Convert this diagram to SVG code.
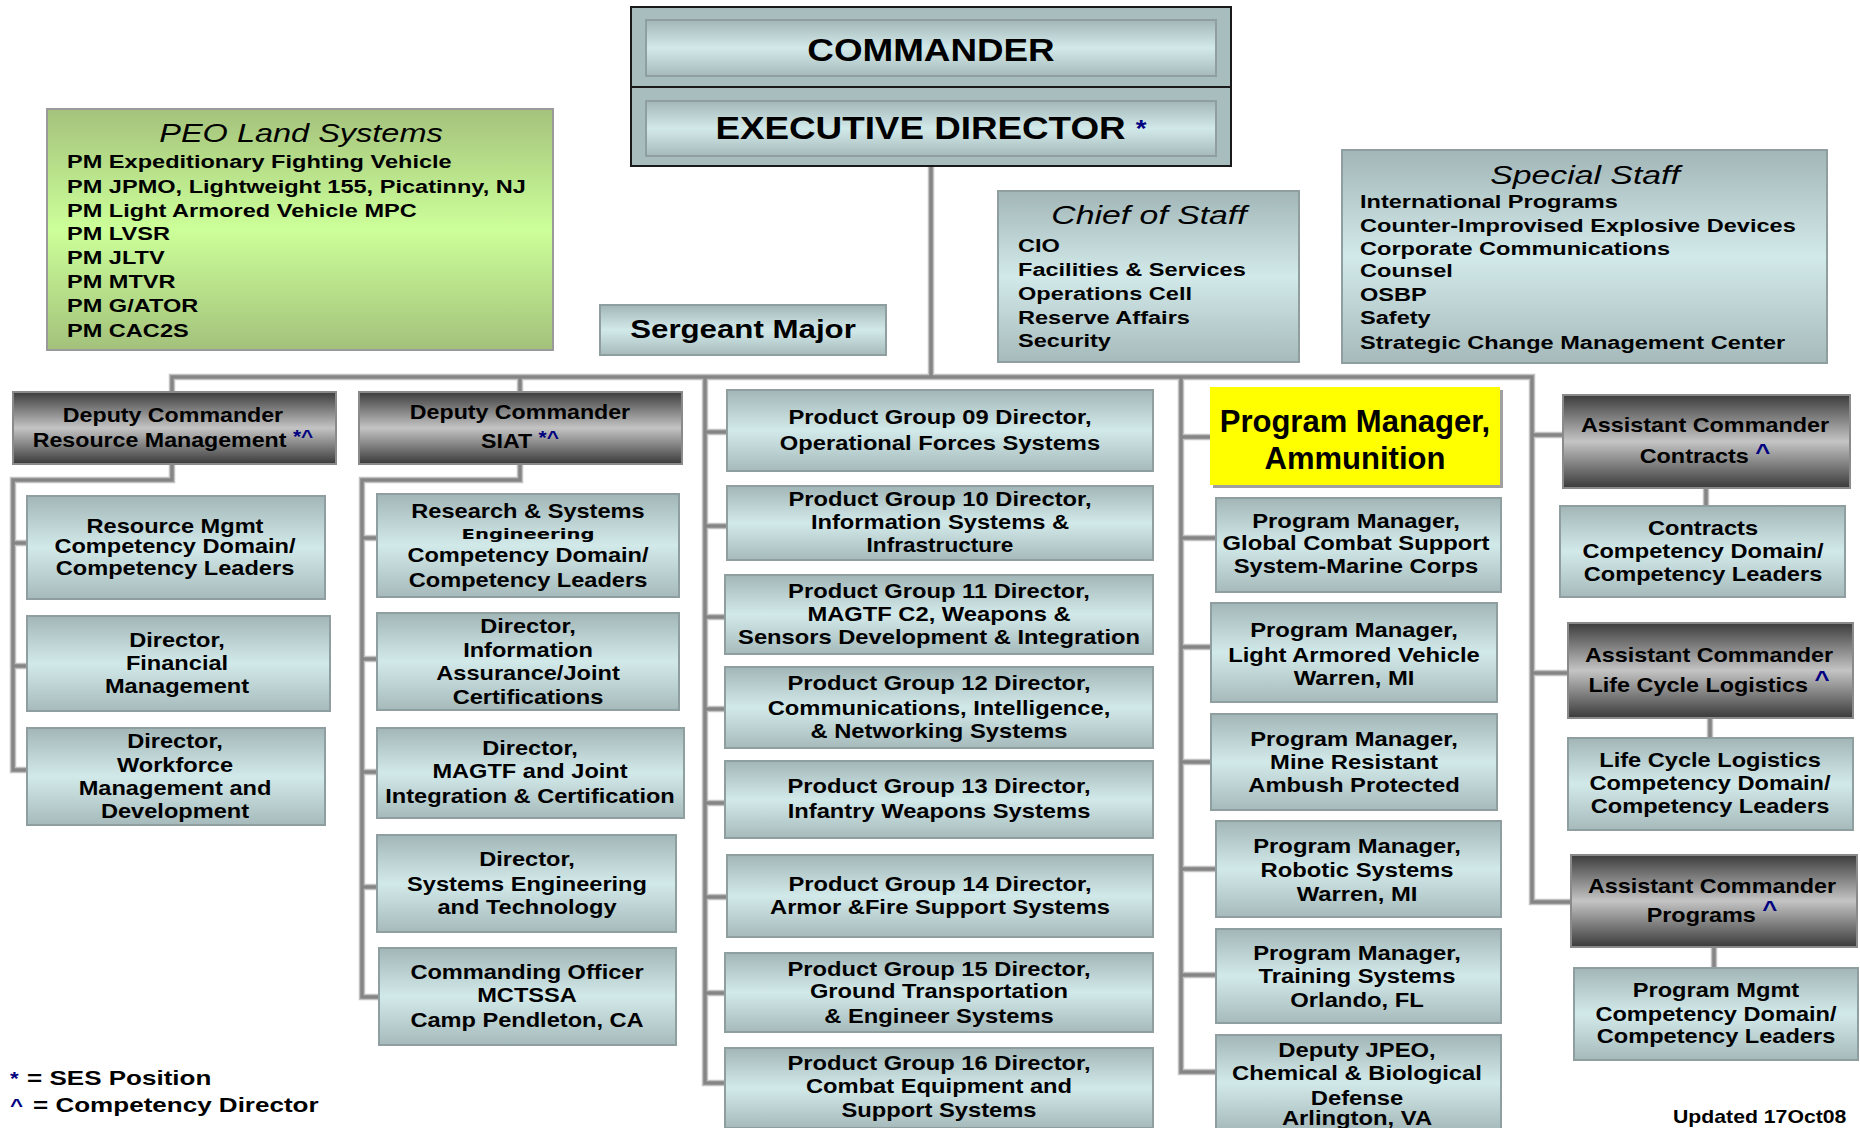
<svg xmlns="http://www.w3.org/2000/svg" xmlns:xlink="http://www.w3.org/1999/xlink" width="1860" height="1128" viewBox="0 0 1860 1128">
<defs>
<style>
.t{font-family:"Liberation Sans",Arial,sans-serif;font-weight:bold;fill:#000;text-anchor:middle}
.l{font-family:"Liberation Sans",Arial,sans-serif;font-weight:bold;fill:#000;text-anchor:start}
.it{font-family:"Liberation Sans",Arial,sans-serif;font-style:italic;font-weight:normal;fill:#000;text-anchor:middle}
.nv{fill:#000080}
.box{fill:url(#gBox);stroke:#8f9e9e;stroke-width:2}
.dark{fill:url(#gDark);stroke:#8a8a8a;stroke-width:2}
.green{fill:url(#gGreen);stroke:#9a9a9a;stroke-width:2}
.c1{fill:none;stroke:#c2c2c2;stroke-width:6.5;stroke-linecap:square}
.c2{fill:none;stroke:#858585;stroke-width:3.5;stroke-linecap:square}
.f32{font-size:32px}.f26{font-size:26px}.f25{font-size:25px}.f21{font-size:21px}.f20{font-size:20px}.f19{font-size:19px}.f18{font-size:18px}.f31{font-size:31px}
</style>
<linearGradient id="gBox" x1="0" y1="0" x2="0" y2="1">
<stop offset="0" stop-color="#a2b6b7"/><stop offset="0.5" stop-color="#d2e9ea"/><stop offset="1" stop-color="#a6babb"/>
</linearGradient>
<linearGradient id="gDark" x1="0" y1="0" x2="0" y2="1">
<stop offset="0" stop-color="#3c3c3c"/><stop offset="0.5" stop-color="#c4c4c4"/><stop offset="1" stop-color="#3a3a3a"/>
</linearGradient>
<linearGradient id="gGreen" x1="0" y1="0" x2="0" y2="1">
<stop offset="0" stop-color="#a4c27c"/><stop offset="0.5" stop-color="#ccff99"/><stop offset="1" stop-color="#a3c17b"/>
</linearGradient>
<path id="conn" d="M931,166V377 M172,393V377H1532V902H1571 M520,392V377 M705,377V1083H725 M705,432H727 M705,526H727 M705,617H725 M705,709H725 M705,803H725 M705,897H727 M705,993H725 M1181,377V1072H1216 M1181,437H1210 M1181,538H1216 M1181,647H1211 M1181,762H1211 M1181,869H1216 M1181,975H1216 M1532,435H1563 M1532,673H1568 M1706,488V506 M1710,718V738 M1714,947V968 M172,464V480H13V770H27 M13,543H27 M13,666H27 M520,464V480H362V997H379 M362,538H377 M362,659H377 M362,772H377 M362,887H377"/>
</defs>
<rect width="1860" height="1128" fill="#fff"/>

<g id="connectors">
<use xlink:href="#conn" class="c1"/>
<use xlink:href="#conn" class="c2"/>
</g>

<g id="commander">
<rect x="631" y="7" width="600" height="159" fill="#a8bdbd" stroke="#1a1a1a" stroke-width="2"/>
<line x1="631" y1="87" x2="1231" y2="87" stroke="#1a1a1a" stroke-width="2"/>
<rect x="646" y="20" width="570" height="56" class="box"/>
<rect x="646" y="101" width="570" height="55" class="box"/>
<g transform="translate(931 0) scale(1.15 1)">
<text class="t f32" x="0" y="61">COMMANDER</text>
<text class="t f32" x="0" y="139">EXECUTIVE DIRECTOR <tspan class="nv" font-size="24" dy="-2">*</tspan></text>
</g>
</g>

<g id="peo">
<rect x="47" y="109" width="506" height="241" class="green"/>
<g transform="translate(301 0) scale(1.25 1)"><text class="it f26" x="0" y="142">PEO Land Systems</text></g>
<g transform="translate(67 0) scale(1.24 1)">
<text class="l f19" x="0" y="168">PM Expeditionary Fighting Vehicle</text>
<text class="l f19" x="0" y="193">PM JPMO, Lightweight  155, Picatinny, NJ</text>
<text class="l f19" x="0" y="217">PM Light  Armored Vehicle MPC</text>
<text class="l f19" x="0" y="240">PM LVSR</text>
<text class="l f19" x="0" y="264">PM JLTV</text>
<text class="l f19" x="0" y="288">PM MTVR</text>
<text class="l f19" x="0" y="312">PM G/ATOR</text>
<text class="l f19" x="0" y="337">PM CAC2S</text>
</g>
</g>

<g id="sergeant-major">
<rect x="600" y="305" width="286" height="50" class="box"/>
<g transform="translate(743 0) scale(1.25 1)"><text class="t f25" x="0" y="338">Sergeant Major</text></g>
</g>

<g id="chief-of-staff">
<rect x="998" y="191" width="301" height="171" class="box"/>
<g transform="translate(1149 0) scale(1.3 1)"><text class="it f26" x="0" y="224">Chief of Staff</text></g>
<g transform="translate(1018 0) scale(1.24 1)">
<text class="l f19" x="0" y="252">CIO</text>
<text class="l f19" x="0" y="276">Facilities &amp; Services</text>
<text class="l f19" x="0" y="300">Operations Cell</text>
<text class="l f19" x="0" y="324">Reserve Affairs</text>
<text class="l f19" x="0" y="347">Security</text>
</g>
</g>

<g id="special-staff">
<rect x="1342" y="150" width="485" height="213" class="box"/>
<g transform="translate(1585 0) scale(1.3 1)"><text class="it f26" x="0" y="184">Special Staff</text></g>
<g transform="translate(1360 0) scale(1.24 1)">
<text class="l f19" x="0" y="208">International Programs</text>
<text class="l f19" x="0" y="232">Counter-Improvised Explosive Devices</text>
<text class="l f19" x="0" y="255">Corporate Communications</text>
<text class="l f19" x="0" y="277">Counsel</text>
<text class="l f19" x="0" y="301">OSBP</text>
<text class="l f19" x="0" y="324">Safety</text>
<text class="l f19" x="0" y="349">Strategic Change Management Center</text>
</g>
</g>

<g id="dc-resource-management">
<rect x="13" y="392" width="323" height="72" class="dark"/>
<g transform="translate(173 0) scale(1.16 1)">
<text class="t f20" x="0" y="422">Deputy Commander</text>
<text class="t f20" x="0" y="447">Resource Management <tspan class="nv" font-size="18" dy="-4">*^</tspan></text>
</g>
</g>

<g id="dc-siat">
<rect x="359" y="392" width="323" height="72" class="dark"/>
<g transform="translate(520 0) scale(1.16 1)">
<text class="t f20" x="0" y="419">Deputy Commander</text>
<text class="t f20" x="0" y="448">SIAT <tspan class="nv" font-size="18" dy="-4">*^</tspan></text>
</g>
</g>

<g id="rm-competency">
<rect x="27" y="496" width="298" height="103" class="box"/>
<g transform="translate(175 0) scale(1.18 1)">
<text class="t f20" x="0" y="533">Resource Mgmt</text>
<text class="t f20" x="0" y="553">Competency Domain/</text>
<text class="t f20" x="0" y="575">Competency Leaders</text>
</g>
</g>
<g id="rm-financial">
<rect x="27" y="616" width="303" height="95" class="box"/>
<g transform="translate(177 0) scale(1.18 1)">
<text class="t f20" x="0" y="647">Director,</text>
<text class="t f20" x="0" y="670">Financial</text>
<text class="t f20" x="0" y="693">Management</text>
</g>
</g>
<g id="rm-workforce">
<rect x="27" y="728" width="298" height="97" class="box"/>
<g transform="translate(175 0) scale(1.18 1)">
<text class="t f20" x="0" y="748">Director,</text>
<text class="t f20" x="0" y="772">Workforce</text>
<text class="t f20" x="0" y="795">Management  and</text>
<text class="t f20" x="0" y="818">Development</text>
</g>
</g>

<g id="siat-research">
<rect x="377" y="494" width="302" height="103" class="box"/>
<g transform="translate(528 0) scale(1.18 1)">
<text class="t f20" x="0" y="518">Research &amp; Systems</text>
<text class="t f20" x="0" y="562">Competency Domain/</text>
<text class="t f20" x="0" y="587">Competency Leaders</text>
</g>
<g transform="translate(528 0) scale(1.4 1)"><text x="0" y="539" font-family="'DejaVu Sans',Verdana,sans-serif" font-weight="bold" font-size="14" text-anchor="middle">Engineering</text></g>
</g>
<g id="siat-info-assurance">
<rect x="377" y="613" width="302" height="97" class="box"/>
<g transform="translate(528 0) scale(1.18 1)">
<text class="t f20" x="0" y="633">Director,</text>
<text class="t f20" x="0" y="657">Information</text>
<text class="t f20" x="0" y="680">Assurance/Joint</text>
<text class="t f20" x="0" y="704">Certifications</text>
</g>
</g>
<g id="siat-magtf">
<rect x="377" y="728" width="307" height="90" class="box"/>
<g transform="translate(530 0) scale(1.18 1)">
<text class="t f20" x="0" y="755">Director,</text>
<text class="t f20" x="0" y="778">MAGTF and Joint</text>
<text class="t f20" x="0" y="803">Integration &amp; Certification</text>
</g>
</g>
<g id="siat-systems-eng">
<rect x="377" y="835" width="299" height="97" class="box"/>
<g transform="translate(527 0) scale(1.18 1)">
<text class="t f20" x="0" y="866">Director,</text>
<text class="t f20" x="0" y="891">Systems Engineering</text>
<text class="t f20" x="0" y="914">and Technology</text>
</g>
</g>
<g id="siat-mctssa">
<rect x="379" y="948" width="297" height="97" class="box"/>
<g transform="translate(527 0) scale(1.18 1)">
<text class="t f20" x="0" y="979">Commanding Officer</text>
<text class="t f20" x="0" y="1002">MCTSSA</text>
<text class="t f20" x="0" y="1027">Camp Pendleton, CA</text>
</g>
</g>

<g id="pg09">
<rect x="727" y="390" width="426" height="81" class="box"/>
<g transform="translate(940 0) scale(1.13 1)">
<text class="t f21" x="0" y="424">Product  Group 09 Director,</text>
<text class="t f21" x="0" y="450">Operational  Forces Systems</text>
</g>
</g>
<g id="pg10">
<rect x="727" y="486" width="426" height="74" class="box"/>
<g transform="translate(940 0) scale(1.13 1)">
<text class="t f21" x="0" y="506">Product  Group 10 Director,</text>
<text class="t f21" x="0" y="529">Information Systems &amp;</text>
<text class="t f20" x="0" y="552">Infrastructure</text>
</g>
</g>
<g id="pg11">
<rect x="725" y="575" width="428" height="79" class="box"/>
<g transform="translate(939 0) scale(1.13 1)">
<text class="t f21" x="0" y="598">Product  Group 11 Director,</text>
<text class="t f21" x="0" y="621">MAGTF  C2, Weapons &amp;</text>
<text class="t f21" x="0" y="644">Sensors Development &amp; Integration</text>
</g>
</g>
<g id="pg12">
<rect x="725" y="667" width="428" height="81" class="box"/>
<g transform="translate(939 0) scale(1.13 1)">
<text class="t f21" x="0" y="690">Product  Group 12 Director,</text>
<text class="t f21" x="0" y="715">Communications, Intelligence,</text>
<text class="t f21" x="0" y="738">&amp; Networking Systems</text>
</g>
</g>
<g id="pg13">
<rect x="725" y="761" width="428" height="77" class="box"/>
<g transform="translate(939 0) scale(1.13 1)">
<text class="t f21" x="0" y="793">Product  Group 13 Director,</text>
<text class="t f21" x="0" y="818">Infantry Weapons Systems</text>
</g>
</g>
<g id="pg14">
<rect x="727" y="855" width="426" height="82" class="box"/>
<g transform="translate(940 0) scale(1.13 1)">
<text class="t f21" x="0" y="891">Product  Group 14 Director,</text>
<text class="t f21" x="0" y="914">Armor &amp;Fire Support Systems</text>
</g>
</g>
<g id="pg15">
<rect x="725" y="953" width="428" height="79" class="box"/>
<g transform="translate(939 0) scale(1.13 1)">
<text class="t f21" x="0" y="976">Product  Group 15 Director,</text>
<text class="t f21" x="0" y="998">Ground  Transportation</text>
<text class="t f21" x="0" y="1023">&amp; Engineer Systems</text>
</g>
</g>
<g id="pg16">
<rect x="725" y="1048" width="428" height="80" class="box"/>
<g transform="translate(939 0) scale(1.13 1)">
<text class="t f21" x="0" y="1070">Product  Group 16 Director,</text>
<text class="t f21" x="0" y="1093">Combat Equipment and</text>
<text class="t f21" x="0" y="1117">Support Systems</text>
</g>
</g>

<g id="pm-ammunition">
<rect x="1213" y="390" width="290" height="98" fill="#a0a0a0"/>
<rect x="1210" y="387" width="290" height="98" fill="#ffff00"/>
<text class="t f31" x="1355" y="432">Program Manager,</text>
<text class="t f31" x="1355" y="469">Ammunition</text>
</g>
<g id="pm-gcss">
<rect x="1216" y="498" width="285" height="94" class="box"/>
<g transform="translate(1356 0) scale(1.19 1)">
<text class="t f20" x="0" y="528">Program Manager,</text>
<text class="t f20" x="0" y="550">Global Combat Support</text>
<text class="t f20" x="0" y="573">System-Marine Corps</text>
</g>
</g>
<g id="pm-lav">
<rect x="1211" y="603" width="286" height="99" class="box"/>
<g transform="translate(1354 0) scale(1.19 1)">
<text class="t f20" x="0" y="637">Program Manager,</text>
<text class="t f20" x="0" y="662">Light  Armored Vehicle</text>
<text class="t f20" x="0" y="685">Warren, MI</text>
</g>
</g>
<g id="pm-mrap">
<rect x="1211" y="714" width="286" height="96" class="box"/>
<g transform="translate(1354 0) scale(1.19 1)">
<text class="t f20" x="0" y="746">Program Manager,</text>
<text class="t f20" x="0" y="769">Mine Resistant</text>
<text class="t f20" x="0" y="792">Ambush Protected</text>
</g>
</g>
<g id="pm-robotic">
<rect x="1216" y="821" width="285" height="96" class="box"/>
<g transform="translate(1357 0) scale(1.19 1)">
<text class="t f20" x="0" y="853">Program Manager,</text>
<text class="t f20" x="0" y="877">Robotic Systems</text>
<text class="t f20" x="0" y="901">Warren, MI</text>
</g>
</g>
<g id="pm-training">
<rect x="1216" y="929" width="285" height="94" class="box"/>
<g transform="translate(1357 0) scale(1.19 1)">
<text class="t f20" x="0" y="960">Program Manager,</text>
<text class="t f20" x="0" y="983">Training Systems</text>
<text class="t f20" x="0" y="1007">Orlando,  FL</text>
</g>
</g>
<g id="deputy-jpeo">
<rect x="1216" y="1035" width="285" height="95" class="box"/>
<g transform="translate(1357 0) scale(1.19 1)">
<text class="t f20" x="0" y="1057">Deputy JPEO,</text>
<text class="t f20" x="0" y="1080">Chemical &amp; Biological</text>
<text class="t f20" x="0" y="1105">Defense</text>
<text class="t f20" x="0" y="1125">Arlington, VA</text>
</g>
</g>

<g id="ac-contracts">
<rect x="1563" y="395" width="287" height="93" class="dark"/>
<g transform="translate(1705 0) scale(1.17 1)">
<text class="t f20" x="0" y="432">Assistant Commander</text>
<text class="t f20" x="0" y="463">Contracts <tspan class="nv" font-size="22" dy="-3">^</tspan></text>
</g>
</g>
<g id="contracts-competency">
<rect x="1560" y="506" width="285" height="91" class="box"/>
<g transform="translate(1703 0) scale(1.18 1)">
<text class="t f20" x="0" y="535">Contracts</text>
<text class="t f20" x="0" y="558">Competency Domain/</text>
<text class="t f20" x="0" y="581">Competency Leaders</text>
</g>
</g>
<g id="ac-lcl">
<rect x="1568" y="623" width="285" height="95" class="dark"/>
<g transform="translate(1709 0) scale(1.17 1)">
<text class="t f20" x="0" y="662">Assistant Commander</text>
<text class="t f20" x="0" y="692">Life Cycle Logistics <tspan class="nv" font-size="22" dy="-5">^</tspan></text>
</g>
</g>
<g id="lcl-competency">
<rect x="1568" y="738" width="285" height="92" class="box"/>
<g transform="translate(1710 0) scale(1.18 1)">
<text class="t f20" x="0" y="767">Life Cycle Logistics</text>
<text class="t f20" x="0" y="790">Competency Domain/</text>
<text class="t f20" x="0" y="813">Competency Leaders</text>
</g>
</g>
<g id="ac-programs">
<rect x="1571" y="855" width="286" height="92" class="dark"/>
<g transform="translate(1712 0) scale(1.17 1)">
<text class="t f20" x="0" y="893">Assistant Commander</text>
<text class="t f20" x="0" y="922">Programs <tspan class="nv" font-size="22" dy="-5">^</tspan></text>
</g>
</g>
<g id="programs-competency">
<rect x="1574" y="968" width="284" height="92" class="box"/>
<g transform="translate(1716 0) scale(1.18 1)">
<text class="t f20" x="0" y="997">Program Mgmt</text>
<text class="t f20" x="0" y="1021">Competency Domain/</text>
<text class="t f20" x="0" y="1043">Competency Leaders</text>
</g>
</g>

<g id="legend">
<g transform="translate(10 0) scale(1.24 1)">
<text class="l" font-size="18" x="0" y="1085"><tspan class="nv">*</tspan></text>
<text class="l" font-size="18" x="0" y="1112"><tspan class="nv">^</tspan></text>
</g>
<g transform="translate(27 0) scale(1.24 1)">
<text class="l f21" x="0" y="1085">= SES Position</text>
</g>
<g transform="translate(33 0) scale(1.24 1)">
<text class="l f21" x="0" y="1112">= Competency Director</text>
</g>
</g>

<g id="updated">
<g transform="translate(1673 0) scale(1.18 1)"><text class="l f18" x="0" y="1123">Updated 17Oct08</text></g>
</g>
</svg>
